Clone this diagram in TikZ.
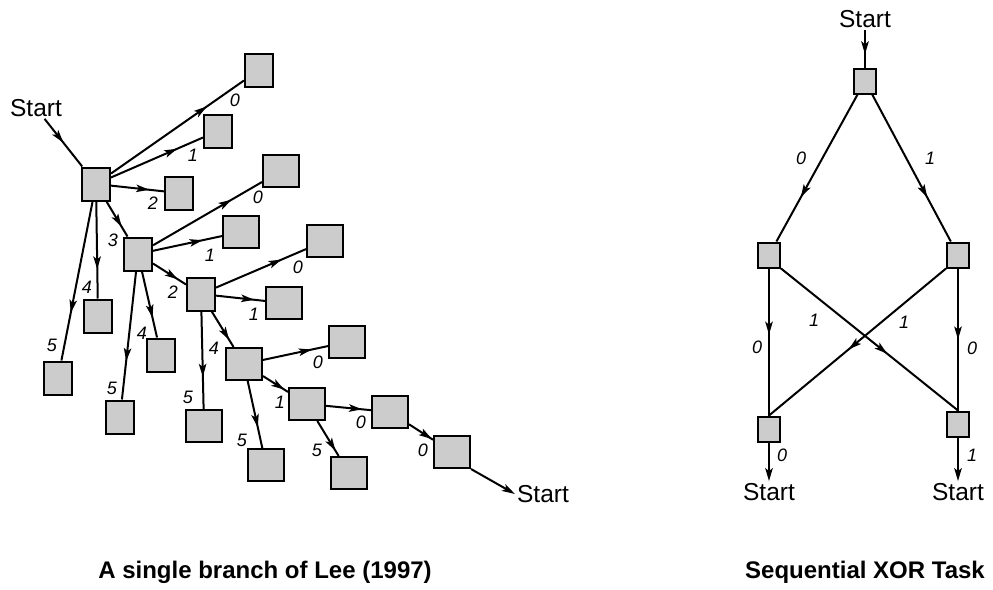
\documentclass[tikz,border=0pt]{standalone}
\usepackage{fontspec}
\setmainfont{Liberation Sans}
\usepackage{tikz}
\usetikzlibrary{arrows.meta, decorations.markings, positioning}

\tikzset{
  box/.style={draw, fill=black!20, line width=2pt, inner sep=0pt,
    minimum width=28pt, minimum height=33pt},
  wbox/.style={box, minimum width=36pt, minimum height=32pt},
  xbox/.style={box, minimum width=22pt, minimum height=25pt},
  lbl/.style={font=\fontsize{18}{21}\selectfont\itshape, inner sep=0pt},
  txt/.style={font=\fontsize{24.5}{28}\selectfont, inner sep=2pt},
  captxt/.style={font=\fontsize{24}{28}\selectfont\bfseries, inner sep=0pt},
  hd/.tip={Stealth[length=13pt, width=7.5pt, inset=3pt]},
  arr/.style={line width=2pt, postaction={decorate},
    decoration={markings, mark=at position #1 with {\arrow{hd}}}},
  arr/.default=0.72,
  endarr/.style={line width=2pt, -hd},
}

\begin{document}
\begin{tikzpicture}[x=1pt, y=-1pt]
\useasboundingbox (0,0) rectangle (993,589);

% single branch
\node[txt] (sl) at (36,108) {Start};
\node[txt] (sr) at (543,494) {Start};
\foreach \n/\x/\y/\s in {r/96/184/box, a0/259/70/box, a1/218/131/box, a2/179/193/box,
    n3/138/254/box, r4/98/316/box, r5/58/378/box, b0/281/171/wbox, b1/241/232/wbox,
    n2/201/294/box, t4/161/355/box, t5/120/417/box, c0/325/241/wbox, c1/284/303/wbox,
    n4/244/364/wbox, w5/204/426/wbox, d0/347/342/wbox, n1/307/404/wbox, v5/266/465/wbox,
    e0/390/412/wbox, u5/349/473/wbox, f0/452/452/wbox}
  \node[\s] (\n) at (\x,\y) {};

\draw[arr=0.5] (sl) -- (r);
\foreach \a/\b/\p in {r/a0/0.72, r/a1/0.72, r/a2/0.72, r/n3/0.72, r/r4/0.7, r/r5/0.7,
    n3/b0/0.72, n3/b1/0.72, n3/n2/0.75, n3/t4/0.7, n3/t5/0.7,
    n2/c0/0.73, n2/c1/0.78, n2/n4/0.8, n2/w5/0.67,
    n4/d0/0.75, n4/n1/0.85, n4/v5/0.69,
    n1/e0/0.8, n1/u5/0.85, e0/f0/0.95}
  \draw[arr=\p] (\a) -- (\b);
\draw[endarr] (f0.south east) -- (sr.west);

\foreach \x/\y/\t [count=\i] in {235/100/0, 193/155/1, 153/203/2, 113/240/3, 87/287/4,
    52/345/5, 258/197/0, 210/255/1, 173/292/2, 142/333/4, 112/388/5, 298/267/0,
    254/314/1, 214/348/4, 188/397/5, 318/362/0, 280/402/1, 242/440/5, 361/422/0,
    317/450/5, 423/450/0}
  \node[lbl] (bl\i) at (\x,\y) {\t};

% sequential XOR
\node[txt] (st) at (865,19) {Start};
\node[xbox] (xt) at (865,81) {};
\node[xbox] (xl) at (769,255) {};
\node[xbox] (xr) at (958,255) {};
\node[xbox] (xbl) at (769,429) {};
\node[xbox] (xbr) at (958,424) {};
\node[txt] (sbl) at (769,492) {Start};
\node[txt] (sbr) at (958,492) {Start};

\draw[arr=0.65] (st) -- (xt);
\draw[arr=0.7] (xt) -- (xl);
\draw[arr=0.7] (xt) -- (xr);
\draw[arr=0.45] (xl) -- (xbl);
\draw[arr=0.5] (xr) -- (xbr);
\draw[arr=0.6] (xl.south east) -- (xbr.north);
\draw[arr=0.55] (xr.south west) -- (xbl.north);
\draw[endarr] (xbl) -- (sbl);
\draw[endarr] (xbr) -- (sbr);

\foreach \x/\y/\t [count=\i] in {801/158/0, 930/158/1, 757/347/0, 972/348/0,
    814/320/1, 904/322/1, 782/455/0, 972/455/1}
  \node[lbl] (xn\i) at (\x,\y) {\t};

\node[captxt] (capl) at (265,572) {A single branch of Lee (1997)};
\node[captxt] (capr) at (865,572) {Sequential XOR Task};
\end{tikzpicture}
\end{document}
